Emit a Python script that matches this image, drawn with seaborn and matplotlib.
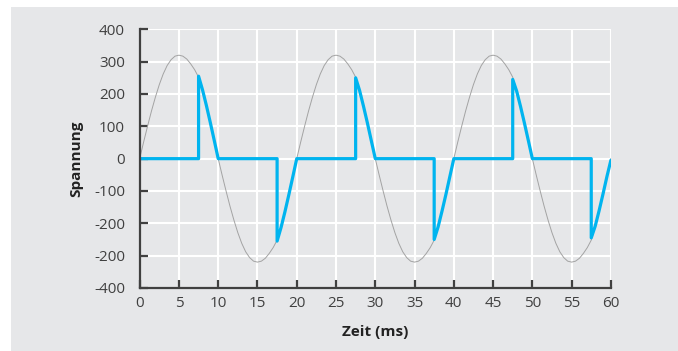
"""Phase-angle controlled voltage (Phasenanschnitt) vs. mains sine."""

import matplotlib

matplotlib.use("Agg")
import matplotlib.pyplot as plt
import pandas as pd
import seaborn as sns
from matplotlib.patches import Rectangle

# gray reference curve, read every 0.5 ms (one half wave per line)
SINE_T = [i * 0.5 for i in range(121)]
SINE_V = [
    0, 51, 100, 147, 190, 229, 262, 288, 306, 317, 320, 317, 308, 293, 275, 252, 212, 163, 111, 56,
    0, -51, -100, -147, -190, -229, -262, -288, -306, -317, -320, -317, -308, -293, -275, -252, -212, -163, -111, -56,
    0, 51, 100, 147, 190, 229, 262, 288, 306, 317, 320, 317, 308, 293, 275, 252, 212, 163, 111, 56,
    0, -51, -100, -147, -190, -229, -262, -288, -306, -317, -320, -317, -308, -293, -275, -252, -212, -163, -111, -56,
    0, 51, 100, 147, 190, 229, 262, 288, 306, 317, 320, 317, 308, 293, 275, 252, 212, 163, 111, 56,
    0, -51, -100, -147, -190, -229, -262, -288, -306, -317, -320, -317, -308, -293, -275, -252, -212, -163, -111, -56,
    0,
]

# blue chopped output (vertical jumps at the firing points)
CUT_T = [
    0, 7.5, 7.5, 8, 8.5, 9, 9.5, 10, 17.5, 17.5, 18, 18.5, 19, 19.5, 20,
    27.5, 27.5, 28, 28.5, 29, 29.5, 30, 37.5, 37.5, 38, 38.5, 39, 39.5, 40,
    47.5, 47.5, 48, 48.5, 49, 49.5, 50, 57.5, 57.5, 58, 58.5, 59, 59.5, 60,
]
CUT_V = [
    0, 0, 255, 213, 164, 111, 56, 0, 0, -255, -213, -164, -111, -56, 0,
    0, 250, 211, 162, 110, 55, 0, 0, -250, -211, -162, -110, -55, 0,
    0, 245, 209, 161, 109, 55, 0, 0, -245, -209, -161, -109, -55, -5,
]

X_TICKS = list(range(0, 61, 5))
Y_TICKS = [400, 300, 200, 100, 0, -100, -200, -300, -400]
Y_TICK_LABELS = ["400", "300", "200", "100", "0", "-100", "-200", "-200", "-400"]

BG = "#e6e7e9"
BLUE = "#00b4ef"
TEXT = "#404040"


def main():
    sns.set_theme(style="whitegrid")
    plt.rcParams["font.family"] = ["Open Sans", "DejaVu Sans"]

    sine = pd.DataFrame({"t": SINE_T, "v": SINE_V})
    cut = pd.DataFrame({"t": CUT_T, "v": CUT_V})

    fig = plt.figure(figsize=(6.78, 3.51), dpi=100, facecolor="white")
    fig.patches.append(
        Rectangle((11 / 678, 0), 1, 1 - 7 / 351, transform=fig.transFigure,
                  facecolor=BG, edgecolor="none", zorder=-5)
    )
    ax = fig.add_axes([0.206, 0.1795, 0.695, 0.737])
    ax.set_zorder(1)
    ax.set_facecolor(BG)

    sns.lineplot(data=sine, x="t", y="v", color="#a3a3a3", linewidth=0.7, ax=ax)
    sns.lineplot(data=cut, x="t", y="v", color=BLUE, linewidth=2.3,
                 estimator=None, sort=False, ax=ax)

    ax.set_xlim(0, 60)
    ax.set_ylim(-400, 400)
    ax.set_xticks(X_TICKS)
    ax.set_yticks(Y_TICKS)
    ax.set_yticklabels(Y_TICK_LABELS)
    ax.grid(True, color="white", linewidth=1.5)
    ax.set_axisbelow(True)

    for side in ("top", "right"):
        ax.spines[side].set_visible(False)
    for side in ("left", "bottom"):
        ax.spines[side].set_color(TEXT)
        ax.spines[side].set_linewidth(1.6)

    ax.tick_params(axis="y", direction="in", length=6, width=1.6, color=TEXT,
                   labelcolor=TEXT, labelsize=11, pad=10.5, left=True)
    ax.tick_params(axis="x", direction="in", length=6, width=1.6, color=TEXT,
                   labelcolor=TEXT, labelsize=11, pad=6, bottom=True)

    ax.set_xlabel("Zeit (ms)", fontsize=11, fontweight="bold", color="#222222", labelpad=10)
    ax.set_ylabel("Spannung", fontsize=11, fontweight="bold", color="#222222", labelpad=8)

    fig.savefig("out.png", dpi=100, facecolor=fig.get_facecolor())


if __name__ == "__main__":
    main()
